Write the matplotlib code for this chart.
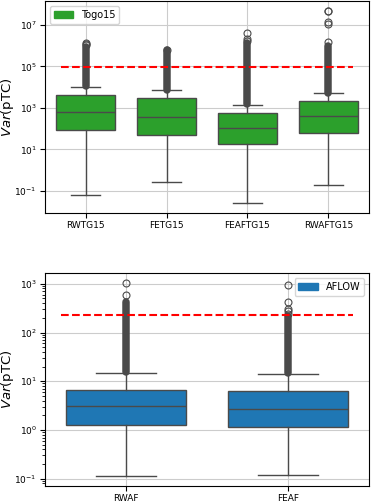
import matplotlib
matplotlib.use('Agg')
import matplotlib.pyplot as plt
from matplotlib.patches import Patch

# ---------------- data ----------------
top_labels = ['RWTG15', 'FETG15', 'FEAFTG15', 'RWAFTG15']
top_q1 = [83, 50, 19, 60]
top_med = [600, 370, 105, 410]
top_q3 = [4100, 2850, 540, 2050]
top_whislo = [0.062, 0.27, 0.025, 0.19]
top_whishi = [10300, 7100, 1450, 5000]
# range covered by the dense (overlapping) outlier markers
top_dense_lo = [1.1e4, 7.6e3, 1.5e3, 5.3e3]
top_dense_hi = [9.0e5, 6.3e5, 1.4e6, 9.3e5]
# separately visible outliers
rwtg15_fliers = [1.05e6, 1.2e6, 1.35e6]
fetg15_fliers = [6.3e5]
feaftg15_fliers = [1.7e6, 2.0e6, 4.1e6]
rwaftg15_fliers = [1.45e6, 1.15e7, 1.45e7, 4.5e7, 4.9e7]
top_threshold = 9e4
top_legend = 'Togo15'

bot_labels = ['RWAF', 'FEAF']
bot_q1 = [1.27, 1.15]
bot_med = [3.05, 2.7]
bot_q3 = [6.7, 6.2]
bot_whislo = [0.112, 0.12]
bot_whishi = [15, 13.8]
bot_dense_lo = [15.5, 14.5]
bot_dense_hi = [420, 215]
rwaf_fliers = [600, 1050]
feaf_fliers = [245, 275, 305, 430, 940]
bot_threshold = 230
bot_legend = 'AFLOW'

# ---------------- styling ----------------
green = '#2ca02c'
blue = '#1f77b4'
edge = '#4a4a4a'

fig = plt.figure(figsize=(3.71, 5.01), dpi=100)
ax_top = fig.add_axes([0.1213, 0.5749, 0.8733, 0.4232])
ax_bot = fig.add_axes([0.1213, 0.0299, 0.8733, 0.4251])


def draw(ax, labels, q1, med, q3, wlo, whi, dlo, dhi, fliers, color, thr,
         leg, loc):
    ax.set_yscale('log')
    pos = list(range(len(labels)))
    stats = []
    for i, lab in enumerate(labels):
        stats.append(dict(label=lab, q1=q1[i], med=med[i], q3=q3[i],
                          whislo=wlo[i], whishi=whi[i], fliers=fliers[i]))
    # dense outlier clouds (markers overlap into a solid column)
    ax.vlines(pos, dlo, dhi, color=edge, linewidth=5.4, capstyle='round',
              zorder=2)
    ax.bxp(stats, positions=pos, widths=0.74,
           capwidths=0.37, patch_artist=True,
           boxprops=dict(facecolor=color, edgecolor=edge, linewidth=1.0),
           medianprops=dict(color=edge, linewidth=1.0),
           whiskerprops=dict(color=edge, linewidth=1.0),
           capprops=dict(color=edge, linewidth=1.0),
           flierprops=dict(marker='o', markersize=5, markerfacecolor='none',
                           markeredgecolor=edge, markeredgewidth=0.8))
    ax.set_xlim(-0.5, len(labels) - 0.5)
    ax.axhline(thr, xmin=0.05, xmax=0.95, color='red', linestyle='--',
               linewidth=1.5, zorder=5)
    ax.grid(True, color='#cccccc', linewidth=0.8)
    ax.set_axisbelow(True)
    ax.set_ylabel(r'$Var$(pTC)', fontsize=9.5)
    ax.yaxis.set_label_coords(-0.088, 0.5)
    ax.tick_params(labelsize=6.5, pad=2.5)
    ax.legend(handles=[Patch(color=color, label=leg)], loc=loc, fontsize=7)


draw(ax_top, top_labels, top_q1, top_med, top_q3, top_whislo, top_whishi,
     top_dense_lo, top_dense_hi,
     [rwtg15_fliers, fetg15_fliers, feaftg15_fliers, rwaftg15_fliers],
     green, top_threshold, top_legend, 'upper left')
draw(ax_bot, bot_labels, bot_q1, bot_med, bot_q3, bot_whislo, bot_whishi,
     bot_dense_lo, bot_dense_hi,
     [rwaf_fliers, feaf_fliers], blue, bot_threshold, bot_legend, 'upper right')

fig.savefig('out.png', dpi=100)
